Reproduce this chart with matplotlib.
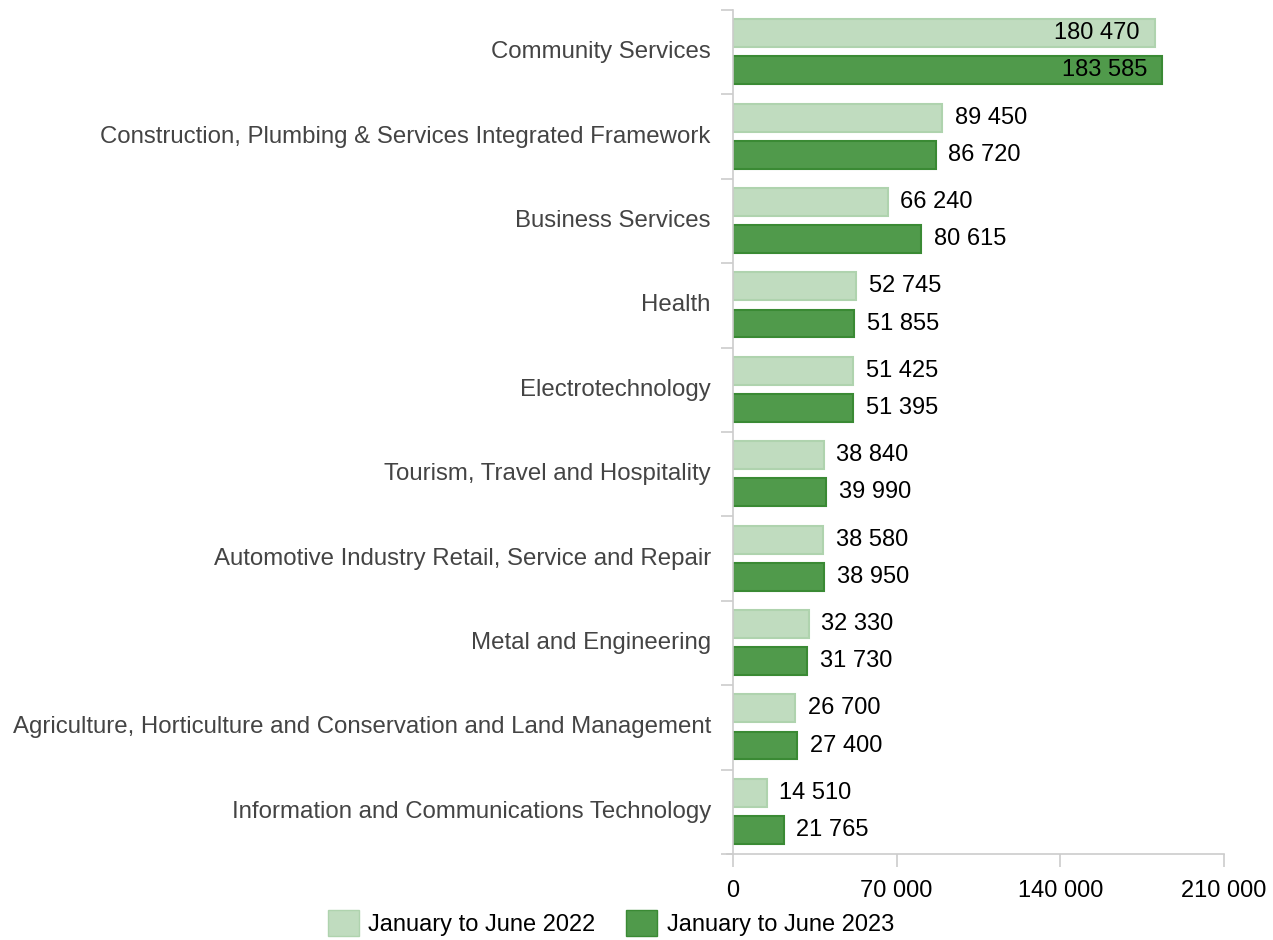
import matplotlib.pyplot as plt
from matplotlib.patches import Patch

plt.rcParams['font.family'] = ['Liberation Sans', 'DejaVu Sans']

categories = [
    'Community Services',
    'Construction, Plumbing & Services Integrated Framework',
    'Business Services',
    'Health',
    'Electrotechnology',
    'Tourism, Travel and Hospitality',
    'Automotive Industry Retail, Service and Repair',
    'Metal and Engineering',
    'Agriculture, Horticulture and Conservation and Land Management',
    'Information and Communications Technology',
]
jan_jun_2022 = [180470, 89450, 66240, 52745, 51425, 38840, 38580, 32330, 26700, 14510]
jan_jun_2023 = [183585, 86720, 80615, 51855, 51395, 39990, 38950, 31730, 27400, 21765]
series_names = ['January to June 2022', 'January to June 2023']
xticks = [0, 70000, 140000, 210000]

light, light_edge = '#c0dcbf', '#afd3ae'
dark, dark_edge = '#509a4b', '#3a8a34'
grid_col = '#cccccc'

def fmt(v):
    return f'{v:,}'.replace(',', ' ')

fig = plt.figure(figsize=(12.73, 9.40), dpi=100)
ax = fig.add_axes([0.5758, 0.0915, 0.9615 - 0.5758, 0.9894 - 0.0915])

pos = list(range(len(categories)))
h = 0.33
p1 = [p - 0.225 for p in pos]
p2 = [p + 0.215 for p in pos]
ax.barh(p1, jan_jun_2022, height=h, color=light, edgecolor=light_edge, linewidth=1.5)
ax.barh(p2, jan_jun_2023, height=h, color=dark, edgecolor=dark_edge, linewidth=1.5)

for ys, vals in ((p1, jan_jun_2022), (p2, jan_jun_2023)):
    for y, v in zip(ys, vals):
        if v > 150000:
            ax.annotate(fmt(v), (v, y), xytext=(-11, 0), textcoords='offset points',
                        ha='right', va='center', fontsize=17, color='black')
        else:
            ax.annotate(fmt(v), (v, y), xytext=(9, 0), textcoords='offset points',
                        ha='left', va='center', fontsize=17, color='black')

ax.set_xlim(0, 210000)
ax.set_ylim(len(categories) - 0.5, -0.5)
ax.set_xticks(xticks)
ax.set_xticklabels([fmt(t) for t in xticks], fontsize=17, color='black')
ax.set_yticks([p - 0.03 for p in pos])
ax.set_yticklabels(categories, fontsize=17.3, color='#444444')
ax.set_yticks([p - 0.5 for p in pos] + [len(pos) - 0.5], minor=True)
ax.tick_params(axis='y', which='major', length=0, pad=16)
ax.tick_params(axis='y', which='minor', length=9, width=1.2, color=grid_col)
ax.tick_params(axis='x', length=9, width=1.2, color=grid_col, pad=10)

for s in ('top', 'right'):
    ax.spines[s].set_visible(False)
ax.spines['left'].set_color(grid_col)
ax.spines['bottom'].set_color(grid_col)
ax.spines['left'].set_linewidth(1.2)
ax.spines['bottom'].set_linewidth(1.2)
ax.spines['bottom'].set_bounds(-2500, 210000)

handles = [Patch(facecolor=light, edgecolor=light_edge), Patch(facecolor=dark, edgecolor=dark_edge)]
fig.legend(handles, series_names, loc='lower center', bbox_to_anchor=(0.48, -0.018), ncol=2,
           frameon=False, fontsize=17, handlelength=1.3, handleheight=1.3,
           handletextpad=0.4, columnspacing=1.3)

fig.savefig('out.png', dpi=100)
